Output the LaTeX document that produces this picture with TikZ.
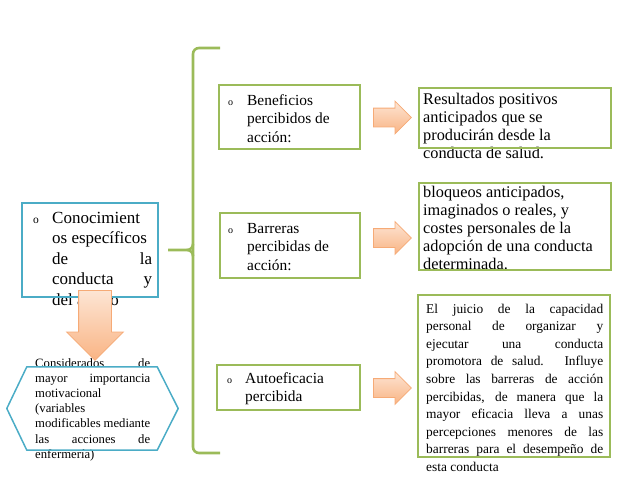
\documentclass[tikz,border=0pt]{standalone}
\usepackage{fontspec}
\setmainfont{Liberation Serif}
\usetikzlibrary{shapes.arrows,positioning}
\tolerance=10000
\hbadness=10000

\definecolor{tealline}{RGB}{75,172,198}
\definecolor{greenline}{RGB}{155,187,89}
\definecolor{peachtop}{RGB}{253,229,212}
\definecolor{peachbot}{RGB}{249,180,132}
\definecolor{peachline}{RGB}{246,170,118}

\begin{document}
\begin{tikzpicture}[
  x=1pt, y=-1pt,
  every node/.style={inner sep=0pt},
  bluebox/.style={draw=tealline, line width=1.5pt},
  greenbox/.style={draw=greenline, line width=1.5pt},
  brace/.style={draw=greenline, line width=2.6pt, rounded corners=6pt},
  txtbig/.style={anchor=base west, font=\fontsize{17}{20.5}\selectfont},
  txtmid/.style={anchor=base west, font=\fontsize{15.4}{18.5}\selectfont},
  txtres/.style={anchor=base west, font=\fontsize{16.3}{18}\selectfont},
  txtjust/.style={anchor=base west, font=\fontsize{13.4}{17.6}\selectfont},
  txthex/.style={anchor=base west, font=\fontsize{12.7}{15.2}\selectfont},
  rarrow/.style={single arrow, draw=peachline, line width=0.8pt, top color=peachtop, bottom color=peachbot,
    inner sep=9pt, minimum height=38pt, single arrow head extend=7pt, anchor=tail},
  darrow/.style={single arrow, draw=peachline, line width=0.8pt, top color=peachtop, bottom color=peachbot,
    inner sep=16pt, minimum height=70pt, single arrow head extend=12pt, shape border rotate=270, anchor=tail}
]
\useasboundingbox (0,0) rectangle (638,479);

% texts first, the frames are drawn over them
\node[txtbig] (tconoc) at (33,223) {\parbox[t]{119pt}{\hangindent=19pt\hangafter=1\noindent
  \makebox[19pt][l]{\fontsize{11.5}{11.5}\selectfont o}Conocimient\newline os específicos\newline
  de\hfill la\newline conducta\hfill y\newline del afecto}};
\node[txtmid] (tbenef) at (228,105) {\parbox[t]{130pt}{\hangindent=19pt\hangafter=1\noindent
  \makebox[19pt][l]{\fontsize{10}{10}\selectfont o}Beneficios\newline percibidos de\newline acción:}};
\node[txtmid] (tbarr) at (228,233) {\parbox[t]{130pt}{\hangindent=19pt\hangafter=1\noindent
  \makebox[19pt][l]{\fontsize{10}{10}\selectfont o}Barreras\newline percibidas de\newline acción:}};
\node[txtmid] (tauto) at (227,383) {\parbox[t]{130pt}{\hangindent=18pt\hangafter=1\noindent
  \makebox[18pt][l]{\fontsize{10}{10}\selectfont o}Autoeficacia\newline percibida}};
\node[txtres] (tres1) at (423,104) {\parbox[t]{185pt}{Resultados positivos\newline
  anticipados que se\newline producirán desde la\newline conducta de salud.}};
\node[txtres] (tres2) at (423,197) {\parbox[t]{185pt}{bloqueos anticipados,\newline
  imaginados o reales, y\newline costes personales de la\newline adopción de una conducta\newline determinada.}};
\node[txtjust] (tres3) at (426,313) {\parbox[t]{177pt}{El juicio de la capacidad\linebreak
  personal de organizar y\linebreak ejecutar una conducta\linebreak promotora de salud. Influye\linebreak
  sobre las barreras de acción\linebreak percibidas, de manera que la\linebreak
  mayor eficacia lleva a unas\linebreak percepciones menores de las\linebreak
  barreras para el desempeño de\linebreak esta conducta}};
\node[txthex] (thex) at (35,367) {\parbox[t]{115pt}{Considerados de\linebreak
  mayor importancia\linebreak motivacional\newline (variables\newline
  modificables mediante\linebreak las acciones de\linebreak enfermería)}};

% frames
\node[bluebox, minimum width=136pt, minimum height=94pt] (conoc) at (90,250) {};
\node[minimum width=171pt, minimum height=83pt] (hex) at (92.5,408.5) {};
\draw[bluebox, line join=round] (hex.west) -- ([xshift=20pt]hex.north west) -- ([xshift=-21pt]hex.north east)
  -- (hex.east) -- ([xshift=-21pt]hex.south east) -- ([xshift=20pt]hex.south west) -- cycle;
\node[greenbox, minimum width=141pt, minimum height=64pt] (benef) at (289.5,117) {};
\node[greenbox, minimum width=140pt, minimum height=65pt] (barr) at (290,245.5) {};
\node[greenbox, minimum width=143pt, minimum height=45pt] (auto) at (288.5,387.5) {};
\node[greenbox, minimum width=192pt, minimum height=60pt] (res1) at (515,118) {};
\node[greenbox, minimum width=192pt, minimum height=87pt] (res2) at (515,226.5) {};
\node[greenbox, minimum width=192pt, minimum height=162pt] (res3) at (514,376) {};

% brace
\draw[brace] (220,48) -- (193,48) -- (193,453) -- (220,453);
\draw[draw=greenline, line width=2.6pt] (168,250) -- (187,250) to[out=0,in=90] (193,256);
\draw[draw=greenline, line width=2.6pt] (187,250) to[out=0,in=-90] (193,244);

% arrows
\node[rarrow] (ar1) at (373,117.5) {};
\node[rarrow] (ar2) at (373,238) {};
\node[rarrow] (ar3) at (373,388) {};
\node[darrow] (ardown) at (95,290) {};
\end{tikzpicture}
\end{document}
